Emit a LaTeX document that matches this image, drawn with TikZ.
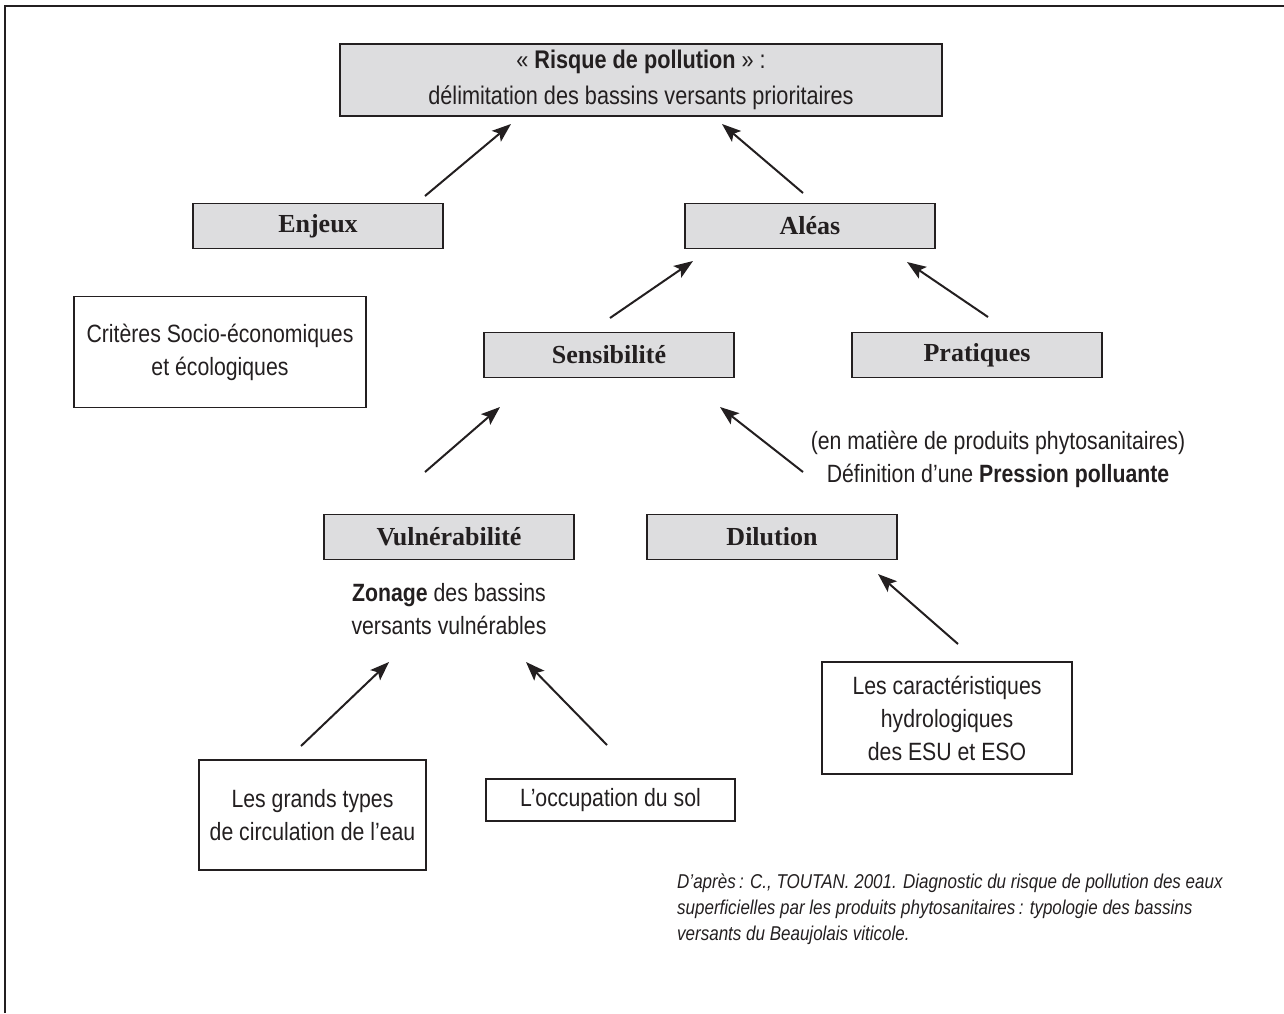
\documentclass[tikz,border=0pt]{standalone}
\usepackage{fontspec}
\setmainfont{Liberation Serif}
\newfontfamily\nsans[FakeStretch=0.85]{Liberation Sans}
\usetikzlibrary{arrows.meta}
\definecolor{boxgray}{RGB}{221,221,223}
\definecolor{ink}{RGB}{35,31,32}

\begin{document}
\begin{tikzpicture}[x=1pt,y=-1pt,
  titlebox/.style={draw=ink, fill=boxgray, line width=1.4pt, minimum width=250pt,
    minimum height=45pt, inner sep=0pt, text=ink,
    font=\fontsize{26}{30}\selectfont\bfseries},
  notebox/.style={draw=ink, line width=1.3pt, inner sep=0pt, align=center, text=ink,
    font=\nsans\fontsize{25}{33}\selectfont},
  note/.style={align=center, inner sep=0pt, text=ink,
    font=\nsans\fontsize{25}{33}\selectfont},
  flow/.style={draw=ink, line width=2pt, -{Stealth[length=19pt,width=14pt,inset=4pt]}}]

\useasboundingbox (0,0) rectangle (1284,1013);
% open frame: top and left rules only
\draw[line width=2.2pt, ink] (5,1013) -- (5,6) -- (1284,6);

% goal box
\node[titlebox, minimum width=602pt, minimum height=72pt, align=center,
  font=\nsans\fontsize{25.5}{36}\selectfont] (risk) at (641,80)
  {« \textbf{Risque de pollution} » :\\ délimitation des bassins versants prioritaires};

% grey headings
\node[titlebox] (enjeux) at (318,226) {Enjeux};
\node[titlebox] (aleas) at (810,226) {Aléas};
\node[titlebox] (sensib) at (609,355) {Sensibilité};
\node[titlebox] (prat) at (977,355) {Pratiques};
\node[titlebox] (vuln) at (449,537) {Vulnérabilité};
\node[titlebox] (dil) at (772,537) {Dilution};

% white boxes
\node[notebox, minimum width=292pt, minimum height=111pt] (crit) at (220,352)
  {Critères Socio-économiques\\ et écologiques};
\node[notebox, minimum width=227pt, minimum height=110pt] (circ) at (312.5,815)
  {Les grands types\\ de circulation de l’eau};
\node[notebox, minimum width=249pt, minimum height=42pt] (occ) at (610.5,800)
  {L’occupation du sol};
\node[notebox, minimum width=250pt, minimum height=112pt] (hydro) at (947,718)
  {Les caractéristiques\\ hydrologiques\\ des ESU et ESO};

% free notes
\node[note] (press) at (998,459)
  {(en matière de produits phytosanitaires)\\ Définition d’une \textbf{Pression polluante}};
\node[note] (zonage) at (449,609)
  {\textbf{Zonage} des bassins\\ versants vulnérables};
\node[anchor=north west, align=left, inner sep=0pt, text=ink,
  font=\nsans\itshape\fontsize{20}{26}\selectfont] (src) at (677,874)
  {D’après\,: C., TOUTAN. 2001. Diagnostic du risque de pollution des eaux\\
   superficielles par les produits phytosanitaires\,: typologie des bassins\\
   versants du Beaujolais viticole.};

% arrow ends
\coordinate (e1) at (425,196);  \coordinate (r1) at (511,124);
\coordinate (a1) at (803,193);  \coordinate (r2) at (722,124);
\coordinate (s1) at (610,318);  \coordinate (a2) at (693,261);
\coordinate (p1) at (988,317);  \coordinate (a3) at (907,262);
\coordinate (v1) at (425,472);  \coordinate (s2) at (500,407);
\coordinate (d1) at (803,472);  \coordinate (s3) at (720,407);
\coordinate (c1) at (301,746);  \coordinate (z1) at (389,662);
\coordinate (o1) at (607,745);  \coordinate (z2) at (526,662);
\coordinate (h1) at (958,644);  \coordinate (d2) at (878,574);

\draw[flow] (e1) -- (r1);
\draw[flow] (a1) -- (r2);
\draw[flow] (s1) -- (a2);
\draw[flow] (p1) -- (a3);
\draw[flow] (v1) -- (s2);
\draw[flow] (d1) -- (s3);
\draw[flow] (c1) -- (z1);
\draw[flow] (o1) -- (z2);
\draw[flow] (h1) -- (d2);
\end{tikzpicture}
\end{document}
